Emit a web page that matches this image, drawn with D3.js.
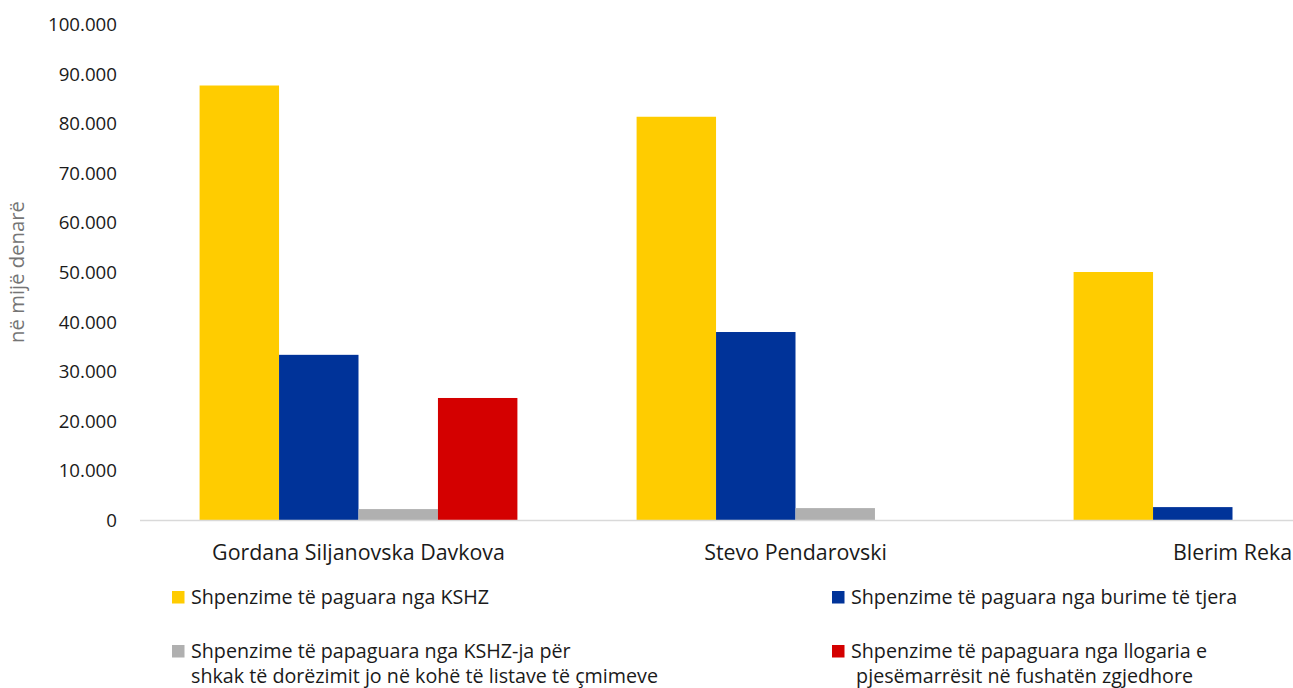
<!DOCTYPE html>
<html>
<head>
<meta charset="utf-8">
<script src="https://cdn.jsdelivr.net/npm/d3@7"></script>
<style>
  html, body { margin: 0; padding: 0; background: #fff; }
  svg { display: block; font-family: "Open Sans", "Noto Sans", sans-serif; }
</style>
</head>
<body>
<svg id="chart" width="1293" height="688"></svg>
<script>
// ---- data (values in thousands of denars) ----
const categories = ["Gordana Siljanovska Davkova", "Stevo Pendarovski", "Blerim Reka"];
const seriesNames = [
  "Shpenzime të paguara nga KSHZ",
  "Shpenzime të paguara nga burime të tjera",
  "Shpenzime të papaguara nga KSHZ-ja për shkak të dorëzimit jo në kohë të listave të çmimeve",
  "Shpenzime të papaguara nga llogaria e pjesëmarrësit në fushatën zgjedhore"
];
const paidKSHZ      = [87.6, 81.3, 50.0];
const paidOther     = [33.3, 37.9, 2.6];
const unpaidKSHZ    = [2.2, 2.4, 0];
const unpaidAccount = [24.6, 0, 0];
const yTicks = [0, 10, 20, 30, 40, 50, 60, 70, 80, 90, 100];
const yTickLabels = ["0", "10.000", "20.000", "30.000", "40.000", "50.000", "60.000", "70.000", "80.000", "90.000", "100.000"];
const yAxisTitle = "në mijë denarë";
const legendLines = [
  ["Shpenzime të paguara nga KSHZ"],
  ["Shpenzime të paguara nga burime të tjera"],
  ["Shpenzime të papaguara nga KSHZ-ja për", "shkak të dorëzimit jo në kohë të listave të çmimeve"],
  ["Shpenzime të papaguara nga llogaria e", " pjesëmarrësit në fushatën zgjedhore"]
];
const colors = ["#FFCC00", "#003399", "#B0B0B0", "#D40000"];

const seriesValues = [paidKSHZ, paidOther, unpaidKSHZ, unpaidAccount];

// ---- layout ----
const svg = d3.select("#chart");
const W = 1293;
const plotLeft = 140, plotBottom = 520, plotTop = 24;
const step = 437;

const x0 = d3.scaleBand().domain(categories).range([plotLeft, plotLeft + step * categories.length]).padding(0);
const x1 = d3.scaleBand().domain(d3.range(seriesNames.length)).range([0, x0.bandwidth()]).paddingInner(0).paddingOuter(0.75);
const y = d3.scaleLinear().domain([0, 100]).range([plotBottom, plotTop]);

// y tick labels
const yAxis = d3.axisLeft(y).tickValues(yTicks).tickSize(0).tickPadding(0)
  .tickFormat((d, i) => yTickLabels[i]);
const gy = svg.append("g").attr("transform", `translate(117,0)`).call(yAxis);
gy.select(".domain").remove();
gy.selectAll("text").attr("font-size", "18.7px").attr("fill", "#1a1a1a")
  .attr("font-family", "'Open Sans', 'Noto Sans', sans-serif").attr("dy", "0.35em");

// bars
const groups = svg.append("g").selectAll("g").data(categories).join("g")
  .attr("transform", d => `translate(${x0(d)},0)`);
groups.selectAll("rect")
  .data((c, ci) => seriesValues.map((vals, si) => ({ si, v: vals[ci] })))
  .join("rect")
  .attr("x", d => x1(d.si))
  .attr("width", x1.bandwidth())
  .attr("y", d => y(d.v))
  .attr("height", d => y(0) - y(d.v))
  .attr("fill", d => colors[d.si]);

// x axis line
svg.append("line")
  .attr("x1", plotLeft).attr("x2", W)
  .attr("y1", y(0) + 0.5).attr("y2", y(0) + 0.5)
  .attr("stroke", "#D9D9D9").attr("stroke-width", 1.5);

// category labels
svg.append("g").selectAll("text").data(categories).join("text")
  .attr("x", d => x0(d) + x0.bandwidth() / 2)
  .attr("y", 553)
  .attr("dy", "0.35em")
  .attr("text-anchor", "middle")
  .attr("font-size", "21.4px")
  .attr("fill", "#1a1a1a")
  .text(d => d);

// y axis title
svg.append("text")
  .attr("transform", `translate(24,${(plotTop + plotBottom) / 2}) rotate(-90)`)
  .attr("text-anchor", "middle")
  .attr("font-size", "20.3px")
  .attr("fill", "#757575")
  .text(yAxisTitle);

// legend
const legendPos = [
  { x: 172, y: 597 },
  { x: 832, y: 597 },
  { x: 172, y: 651 },
  { x: 832, y: 651 }
];
const lg = svg.append("g").selectAll("g").data(legendLines).join("g")
  .attr("transform", (d, i) => `translate(${legendPos[i].x},${legendPos[i].y})`);
lg.append("rect")
  .attr("x", 0).attr("y", -6).attr("width", 12.5).attr("height", 12.5)
  .attr("fill", (d, i) => colors[i]);
lg.each(function(lines) {
  const t = d3.select(this).append("text")
    .attr("font-size", "19.7px").attr("fill", "#1a1a1a")
    .attr("xml:space", "preserve")
    .style("white-space", "pre");
  lines.forEach((ln, k) => {
    t.append("tspan").attr("x", 19).attr("y", k * 25).attr("dy", "0.35em").text(ln);
  });
});
</script>
</body>
</html>
